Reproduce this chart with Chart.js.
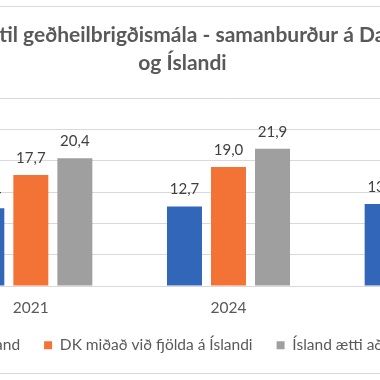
<!DOCTYPE html>
<html>
<head>
<meta charset="utf-8">
<script src="https://cdn.jsdelivr.net/npm/chart.js@4.4.1/dist/chart.umd.min.js"></script>
<style>
  html, body { margin: 0; padding: 0; background: #fff; overflow: hidden; width: 380px; height: 380px; }
  #rammi { position: absolute; left: -161px; top: 6px; border: 1px solid #d9d9d9; background: #fff; }
  #graf { display: block; }
</style>
</head>
<body>
<div id="rammi"><canvas id="graf" width="685" height="366"></canvas></div>
<script>
const TITILL = ["Fjármagn til geðheilbrigðismála - samanburður á Danmörku", "og Íslandi"];
const AR = ["2021", "2024", "2027"];
const RODUR = ["Ísland", "DK miðað við fjölda á Íslandi", "Ísland ætti að fá"];
const GILDI_ISLAND = [12.4, 12.7, 13.1];
const GILDI_DK = [17.7, 19.0, 19.6];
const GILDI_AETTI = [20.4, 21.9, 22.6];
const LITIR = ["#3266b9", "#f37336", "#9f9f9f"];

function formatoTala(v) {
  return v.toFixed(1).replace(".", ",");
}

// tolur fyrir ofan sulur
const merkjaPlugin = {
  id: "merki",
  afterDatasetsDraw: function (chart) {
    let ctx = chart.ctx;
    ctx.save();
    ctx.font = "15px Lato";
    ctx.fillStyle = "#404040";
    ctx.textAlign = "center";
    ctx.textBaseline = "alphabetic";
    chart.data.datasets.forEach(function (ds, i) {
      chart.getDatasetMeta(i).data.forEach(function (bar, j) {
        ctx.fillText(formatoTala(ds.data[j]), bar.x, bar.y - 12);
      });
    });
    ctx.restore();
  },
};

let ctx = document.getElementById("graf");

new Chart(ctx, {
  type: "bar",
  data: {
    labels: AR,
    datasets: [
      { label: RODUR[0], data: GILDI_ISLAND, backgroundColor: LITIR[0] },
      { label: RODUR[1], data: GILDI_DK, backgroundColor: LITIR[1] },
      { label: RODUR[2], data: GILDI_AETTI, backgroundColor: LITIR[2] },
    ],
  },
  options: {
    responsive: false,
    animation: false,
    categoryPercentage: 0.668,
    barPercentage: 0.795,
    layout: { padding: { bottom: 10 } },
    plugins: {
      title: {
        display: true,
        text: TITILL,
        color: "#595959",
        font: { family: "Lato", size: 21, weight: "bold", lineHeight: "28px" },
        padding: { top: 14, bottom: 21 },
      },
      legend: {
        position: "bottom",
        labels: {
          boxWidth: 8,
          boxHeight: 8,
          padding: 24,
          color: "#595959",
          font: { family: "Lato", size: 15.5 },
        },
      },
      tooltip: { enabled: false },
    },
    scales: {
      x: {
        grid: { display: false },
        border: { display: false },
        ticks: { color: "#595959", padding: 5, font: { family: "Lato", size: 15.5 } },
        afterFit: function (scale) {
          scale.height = 27.5;
        },
      },
      y: {
        min: 0,
        max: 30,
        ticks: { stepSize: 5, display: false },
        grid: { color: "#d9d9d9", drawTicks: false },
        border: { display: false },
        afterFit: function (scale) {
          scale.width = 92;
        },
      },
    },
  },
  plugins: [merkjaPlugin],
});
</script>
</body>
</html>
